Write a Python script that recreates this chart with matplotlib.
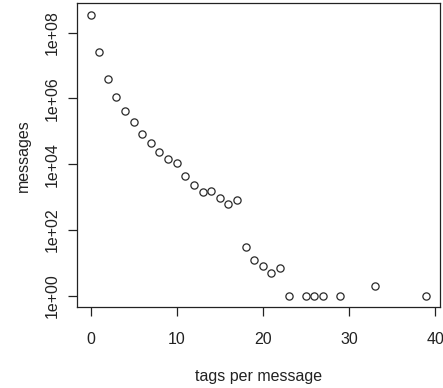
import numpy as np
import matplotlib
matplotlib.use("Agg")
import matplotlib.pyplot as plt

# tags per message vs. number of messages
tags = [0, 1, 2, 3, 4, 5, 6, 7, 8, 9, 10, 11, 12, 13, 14, 15, 16, 17, 18, 19,
        20, 21, 22, 23, 25, 26, 27, 29, 33, 39]
messages = [3.5e8, 2.6e7, 4.0e6, 1.1e6, 4.0e5, 1.9e5, 8.5e4, 4.5e4, 2.3e4, 1.45e4,
            1.07e4, 4.4e3, 2.4e3, 1.4e3, 1.5e3, 910, 600, 810, 30, 12,
            8, 5, 7, 1, 1, 1, 1, 1, 2, 1]

xticks = [0, 10, 20, 30, 40]
yticks = [1e0, 1e2, 1e4, 1e6, 1e8]
ylabels = ["1e+00", "1e+02", "1e+04", "1e+06", "1e+08"]

plt.rcParams['font.family'] = ['Liberation Sans', 'DejaVu Sans']

fig = plt.figure(figsize=(4.43, 3.88), dpi=100)
ax = fig.add_axes([0.174, 0.209, 0.819, 0.782])

ax.plot(tags, messages, linestyle='none', marker='o', markersize=5.2,
        markerfacecolor='none', markeredgecolor='#2a2a2a', markeredgewidth=0.9)

ax.set_yscale('log')
# R style 4% padding
xmin, xmax = min(tags), max(tags)
dx = (xmax - xmin) * 0.04
ax.set_xlim(xmin - dx, xmax + dx)
lmin, lmax = np.log10(min(messages)), np.log10(max(messages))
dl = (lmax - lmin) * 0.04
ax.set_ylim(10 ** (lmin - dl), 10 ** (lmax + dl))

ax.set_xticks(xticks)
ax.set_xticklabels([str(t) for t in xticks])
ax.set_yticks(yticks)
ax.set_yticklabels(ylabels, rotation=90, va='center')
ax.yaxis.set_minor_locator(matplotlib.ticker.NullLocator())

ax.tick_params(axis='both', direction='out', length=6.7, width=0.9,
               labelsize=11.5, color='#222222', labelcolor='#222222')
ax.tick_params(axis='x', pad=11.5)
ax.tick_params(axis='y', pad=6)
for s in ax.spines.values():
    s.set_linewidth(0.9)
    s.set_color('#222222')

ax.set_xlabel("tags per message", fontsize=11.5, color='#222222', va='center')
ax.set_ylabel("messages", fontsize=11.5, color='#222222', va='center')
ax.xaxis.set_label_coords(0.5, -0.231)
ax.yaxis.set_label_coords(-0.147, 0.5)

fig.savefig("out.png", dpi=100)
